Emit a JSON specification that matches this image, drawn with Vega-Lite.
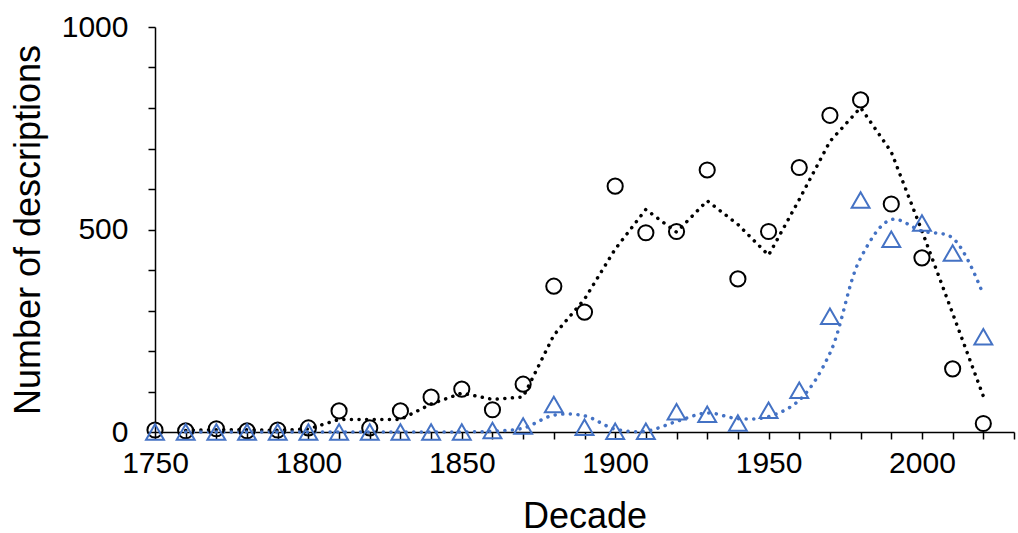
{
  "$schema": "https://vega.github.io/schema/vega-lite/v6.json",
  "width": 859,
  "height": 405,
  "autosize": {"type": "none"},
  "padding": {"left": 155, "top": 27, "right": 4, "bottom": 101},
  "background": "white",
  "config": {
    "view": {"stroke": null},
    "font": "Liberation Sans",
    "axis": {
      "labelFont": "Liberation Sans",
      "titleFont": "Liberation Sans",
      "labelColor": "black",
      "titleColor": "black",
      "domainColor": "black",
      "tickColor": "black",
      "domainWidth": 1.5,
      "tickWidth": 1.5,
      "tickSize": 7,
      "grid": false,
      "labelFontSize": 30,
      "titleFontSize": 36,
      "titleFontWeight": "normal"
    }
  },
  "data": {
    "values": [
      {"decade": 1750, "series": "all", "count": 5, "trend": null},
      {"decade": 1760, "series": "all", "count": 3, "trend": 4},
      {"decade": 1770, "series": "all", "count": 8, "trend": 5.5},
      {"decade": 1780, "series": "all", "count": 3, "trend": 5.5},
      {"decade": 1790, "series": "all", "count": 5, "trend": 4},
      {"decade": 1800, "series": "all", "count": 10, "trend": 7.5},
      {"decade": 1810, "series": "all", "count": 52, "trend": 31},
      {"decade": 1820, "series": "all", "count": 10, "trend": 31},
      {"decade": 1830, "series": "all", "count": 52, "trend": 31},
      {"decade": 1840, "series": "all", "count": 86, "trend": 69},
      {"decade": 1850, "series": "all", "count": 106, "trend": 96},
      {"decade": 1860, "series": "all", "count": 55, "trend": 80.5},
      {"decade": 1870, "series": "all", "count": 118, "trend": 86.5},
      {"decade": 1880, "series": "all", "count": 360, "trend": 239},
      {"decade": 1890, "series": "all", "count": 296, "trend": 328},
      {"decade": 1900, "series": "all", "count": 607, "trend": 451.5},
      {"decade": 1910, "series": "all", "count": 492, "trend": 549.5},
      {"decade": 1920, "series": "all", "count": 495, "trend": 493.5},
      {"decade": 1930, "series": "all", "count": 647, "trend": 571},
      {"decade": 1940, "series": "all", "count": 378, "trend": 512.5},
      {"decade": 1950, "series": "all", "count": 495, "trend": 436.5},
      {"decade": 1960, "series": "all", "count": 653, "trend": 574},
      {"decade": 1970, "series": "all", "count": 782, "trend": 717.5},
      {"decade": 1980, "series": "all", "count": 820, "trend": 801},
      {"decade": 1990, "series": "all", "count": 563, "trend": 691.5},
      {"decade": 2000, "series": "all", "count": 430, "trend": 496.5},
      {"decade": 2010, "series": "all", "count": 156, "trend": 293},
      {"decade": 2020, "series": "all", "count": 21, "trend": 88.5},
      {"decade": 1750, "series": "sub", "count": 0, "trend": null},
      {"decade": 1760, "series": "sub", "count": 0, "trend": 0},
      {"decade": 1770, "series": "sub", "count": 0, "trend": 0},
      {"decade": 1780, "series": "sub", "count": 0, "trend": 0},
      {"decade": 1790, "series": "sub", "count": 0, "trend": 0},
      {"decade": 1800, "series": "sub", "count": 0, "trend": 0},
      {"decade": 1810, "series": "sub", "count": 0, "trend": 0},
      {"decade": 1820, "series": "sub", "count": 0, "trend": 0},
      {"decade": 1830, "series": "sub", "count": 0, "trend": 0},
      {"decade": 1840, "series": "sub", "count": 0, "trend": 0},
      {"decade": 1850, "series": "sub", "count": 0, "trend": 0},
      {"decade": 1860, "series": "sub", "count": 4, "trend": 2},
      {"decade": 1870, "series": "sub", "count": 15, "trend": 9.5},
      {"decade": 1880, "series": "sub", "count": 68, "trend": 41.5},
      {"decade": 1890, "series": "sub", "count": 12, "trend": 40},
      {"decade": 1900, "series": "sub", "count": 2, "trend": 7},
      {"decade": 1910, "series": "sub", "count": 2, "trend": 2},
      {"decade": 1920, "series": "sub", "count": 50, "trend": 26},
      {"decade": 1930, "series": "sub", "count": 44, "trend": 47},
      {"decade": 1940, "series": "sub", "count": 22, "trend": 33},
      {"decade": 1950, "series": "sub", "count": 54, "trend": 38},
      {"decade": 1960, "series": "sub", "count": 103, "trend": 78.5},
      {"decade": 1970, "series": "sub", "count": 286, "trend": 194.5},
      {"decade": 1980, "series": "sub", "count": 573, "trend": 429.5},
      {"decade": 1990, "series": "sub", "count": 476, "trend": 524.5},
      {"decade": 2000, "series": "sub", "count": 516, "trend": 496},
      {"decade": 2010, "series": "sub", "count": 442, "trend": 479},
      {"decade": 2020, "series": "sub", "count": 235, "trend": 338.5}
    ]
  },
  "encoding": {
    "x": {
      "field": "decade",
      "type": "quantitative",
      "scale": {"domain": [1750, 2030], "nice": false, "zero": false},
      "axis": {
        "title": "Decade",
        "values": [1750,1760,1770,1780,1790,1800,1810,1820,1830,1840,1850,1860,1870,1880,1890,1900,1910,1920,1930,1940,1950,1960,1970,1980,1990,2000,2010,2020,2030],
        "labelExpr": "datum.value % 50 === 0 ? format(datum.value, 'd') : ''",
        "labelPadding": 9,
        "titlePadding": 21,
        "labelFlush": false,
        "labelOverlap": false
      }
    }
  },
  "layer": [
    {
      "transform": [{"filter": "datum.series === 'all' && datum.trend != null"}],
      "mark": {"type": "line", "color": "black", "strokeWidth": 3.5, "strokeDash": [0.1, 7.5], "strokeCap": "round", "interpolate": "linear"},
      "encoding": {
        "y": {"field": "trend", "type": "quantitative"}
      }
    },
    {
      "transform": [{"filter": "datum.series === 'sub' && datum.trend != null"}],
      "mark": {"type": "line", "color": "#4472C4", "strokeWidth": 3.5, "strokeDash": [0.1, 7.5], "strokeCap": "round", "interpolate": "catmull-rom"},
      "encoding": {
        "y": {"field": "trend", "type": "quantitative"}
      }
    },
    {
      "transform": [{"filter": "datum.series === 'all'"}],
      "mark": {"type": "point", "shape": "circle", "filled": false, "color": "black", "opacity": 1, "strokeWidth": 2, "size": 230, "clip": false},
      "encoding": {
        "y": {
          "field": "count",
          "type": "quantitative",
          "scale": {"domain": [0, 1000], "nice": false},
          "axis": {
            "title": "Number of descriptions",
            "values": [0,100,200,300,400,500,600,700,800,900,1000],
            "labelExpr": "datum.value % 500 === 0 ? format(datum.value, 'd') : ''",
            "labelPadding": 20,
            "titlePadding": 14,
            "labelOverlap": false
          }
        }
      }
    },
    {
      "transform": [{"filter": "datum.series === 'sub'"}],
      "mark": {"type": "point", "shape": "triangle-up", "filled": false, "color": "#4472C4", "opacity": 1, "strokeWidth": 2, "size": 320, "clip": false},
      "encoding": {
        "y": {"field": "count", "type": "quantitative"}
      }
    }
  ]
}
